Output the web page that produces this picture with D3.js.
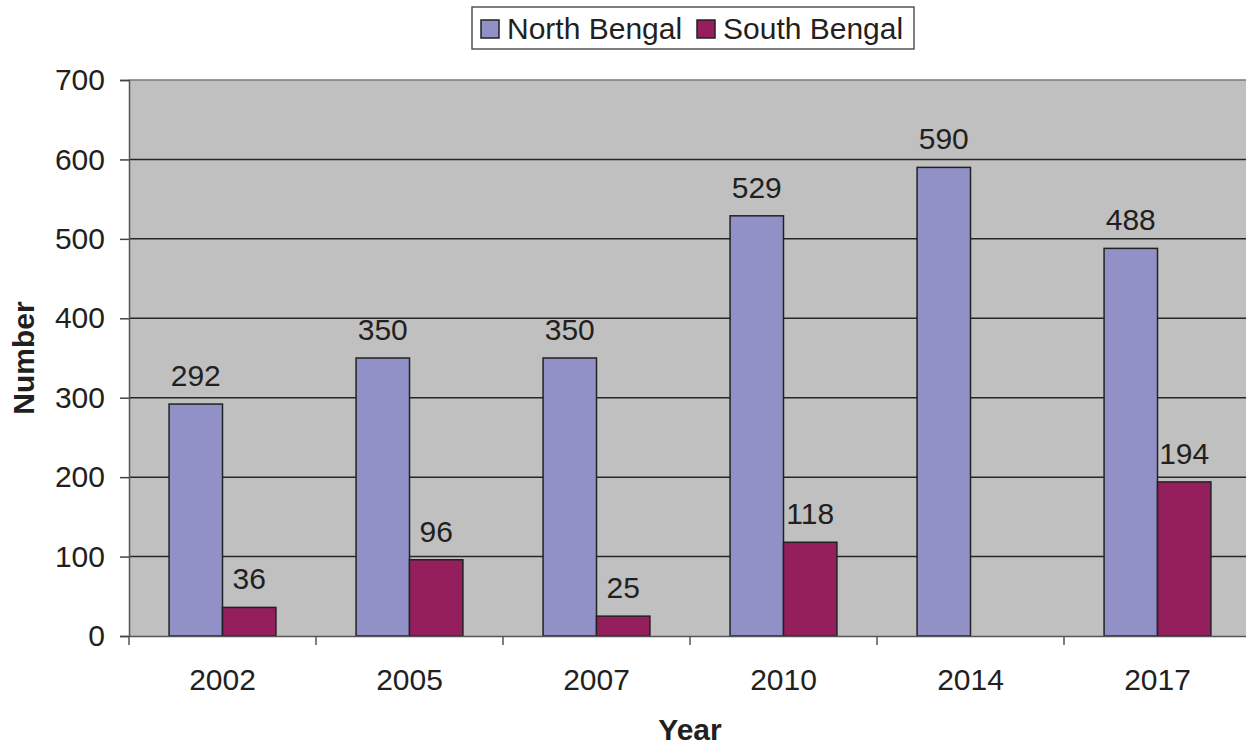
<!DOCTYPE html>
<html>
<head>
<meta charset="utf-8">
<script src="https://cdn.jsdelivr.net/npm/d3@7"></script>
<style>
  body { margin: 0; background: #fff; }
  svg { display: block; font-family: "Liberation Sans", Arial, sans-serif; }
</style>
</head>
<body>
<div id="chart"></div>
<script>
// data
var years = ["2002", "2005", "2007", "2010", "2014", "2017"];
var series = ["North Bengal", "South Bengal"];
var northBengal = [292, 350, 350, 529, 590, 488];
var southBengal = [36, 96, 25, 118, null, 194];
var yTicks = [0, 100, 200, 300, 400, 500, 600, 700];
var colors = ["#9191c7", "#951e5c"];

var svgWidth = 1246;
var svgHeight = 747;

var margin = { top: 80, right: -5, bottom: 111, left: 129 };
var width = svgWidth - margin.left - margin.right;
var height = svgHeight - margin.top - margin.bottom;

var svg = d3.select("#chart")
  .append("svg")
  .attr("width", svgWidth)
  .attr("height", svgHeight);

var chartGroup = svg.append("g")
  .attr("transform", `translate(${margin.left}, ${margin.top})`);

var rows = years.map(function(y, i) {
  return { year: y, values: [northBengal[i], southBengal[i]] };
});

// scales
var x0 = d3.scaleBand().domain(years).range([0, width]).padding(0);
var x1 = d3.scaleBand().domain(series).range([0, x0.bandwidth()])
  .paddingInner(0).paddingOuter(0.75);
var y = d3.scaleLinear().domain([0, 700]).range([height, 0]);

// plot background
chartGroup.append("rect")
  .attr("width", width)
  .attr("height", height)
  .attr("fill", "#c0c0c0");

// gridlines
chartGroup.append("g")
  .selectAll("line")
  .data(yTicks.filter(d => d > 0 && d < 700))
  .enter()
  .append("line")
  .attr("x1", 0)
  .attr("x2", width)
  .attr("y1", d => y(d))
  .attr("y2", d => y(d))
  .attr("stroke", "#262626")
  .attr("stroke-width", 1.5);

chartGroup.append("line")
  .attr("x1", 0).attr("x2", width)
  .attr("y1", y(700)).attr("y2", y(700))
  .attr("stroke", "#7a7a7a")
  .attr("stroke-width", 1.5);

// bars
var groups = chartGroup.selectAll(".yr")
  .data(rows)
  .enter()
  .append("g")
  .attr("transform", d => `translate(${x0(d.year)}, 0)`);

groups.selectAll("rect")
  .data(d => d.values.map((v, i) => ({ key: series[i], value: v, i: i })).filter(d => d.value != null))
  .enter()
  .append("rect")
  .attr("x", d => x1(d.key))
  .attr("y", d => y(d.value))
  .attr("width", x1.bandwidth())
  .attr("height", d => height - y(d.value))
  .attr("fill", d => colors[d.i])
  .attr("stroke", "#222")
  .attr("stroke-width", 1.5);

// value labels
groups.selectAll("text")
  .data(d => d.values.map((v, i) => ({ key: series[i], value: v })).filter(d => d.value != null))
  .enter()
  .append("text")
  .attr("x", d => x1(d.key) + x1.bandwidth() / 2)
  .attr("y", d => y(d.value) - 18)
  .attr("text-anchor", "middle")
  .attr("fill", "#231f20")
  .style("font-size", "30px")
  .text(d => d.value);

// axes
var leftAxis = d3.axisLeft(y).tickValues(yTicks).tickSize(9).tickPadding(15);
var yAxis = chartGroup.append("g").call(leftAxis);
yAxis.select(".domain").attr("stroke", "#555").attr("stroke-width", 1.5);
yAxis.selectAll(".tick line").attr("stroke", "#444").attr("stroke-width", 1.5);
yAxis.selectAll(".tick text")
  .attr("fill", "#231f20")
  .style("font-size", "30px")
  .style("font-family", "'Liberation Sans', Arial, sans-serif");

var bottomAxis = d3.axisBottom(x0).tickSize(0).tickPadding(33);
var xAxis = chartGroup.append("g")
  .attr("transform", `translate(0, ${height})`)
  .call(bottomAxis);
xAxis.select(".domain").attr("stroke", "#555").attr("stroke-width", 1.5);
xAxis.selectAll(".tick text")
  .attr("fill", "#231f20")
  .style("font-size", "30px")
  .style("font-family", "'Liberation Sans', Arial, sans-serif");

// category separator ticks
chartGroup.append("g")
  .selectAll("line")
  .data(years.concat(["end"]))
  .enter()
  .append("line")
  .attr("x1", (d, i) => i * x0.step())
  .attr("x2", (d, i) => i * x0.step())
  .attr("y1", height)
  .attr("y2", height + 9)
  .attr("stroke", "#555")
  .attr("stroke-width", 1.5);

// axis titles
chartGroup.append("text")
  .attr("transform", "rotate(-90)")
  .attr("x", -height / 2)
  .attr("y", -margin.left + 34)
  .attr("text-anchor", "middle")
  .attr("fill", "#231f20")
  .style("font-size", "30px")
  .style("font-weight", "bold")
  .text("Number");

chartGroup.append("text")
  .attr("x", 690 - margin.left)
  .attr("y", height + 104)
  .attr("text-anchor", "middle")
  .attr("fill", "#231f20")
  .style("font-size", "30px")
  .style("font-weight", "bold")
  .text("Year");

// legend
var legend = svg.append("g").attr("transform", "translate(472, 7)");
legend.append("rect")
  .attr("width", 442)
  .attr("height", 42)
  .attr("fill", "#fff")
  .attr("stroke", "#555")
  .attr("stroke-width", 1.5);

var legendX = [9, 225];
var items = legend.selectAll(".item")
  .data(series)
  .enter()
  .append("g")
  .attr("transform", (d, i) => `translate(${legendX[i]}, 0)`);

items.append("rect")
  .attr("y", 13)
  .attr("width", 18)
  .attr("height", 18)
  .attr("fill", (d, i) => colors[i])
  .attr("stroke", "#222")
  .attr("stroke-width", 1.5);

items.append("text")
  .attr("x", 26)
  .attr("y", 32)
  .attr("fill", "#231f20")
  .style("font-size", "30px")
  .text(d => d);
</script>
</body>
</html>
